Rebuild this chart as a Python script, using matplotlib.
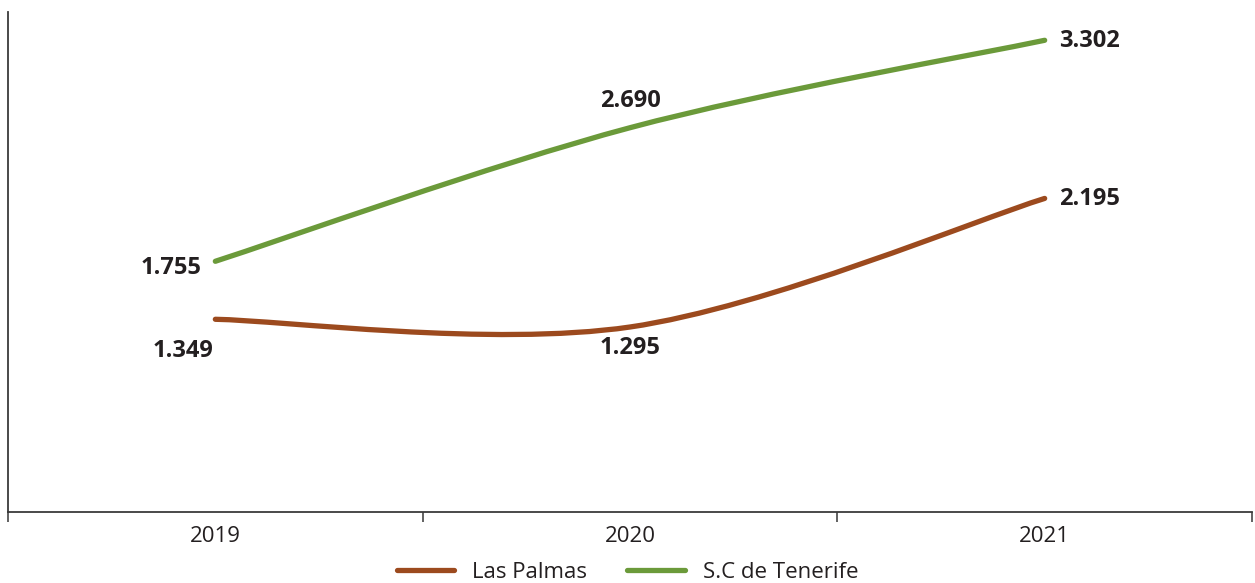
import matplotlib
matplotlib.use("Agg")
import matplotlib.pyplot as plt
from matplotlib.path import Path
from matplotlib.patches import PathPatch
from matplotlib.lines import Line2D
import numpy as np

years = ["2019", "2020", "2021"]
las_palmas = [1.349, 1.295, 2.195]
tenerife = [1.755, 2.690, 3.302]
series_names = ["Las Palmas", "S.C de Tenerife"]
labels_lp = ["1.349", "1.295", "2.195"]
labels_tf = ["1.755", "2.690", "3.302"]

BROWN = "#9C4A1E"
GREEN = "#6B9A3A"
TXT = "#231F20"
plt.rcParams["font.family"] = ["Open Sans", "DejaVu Sans"]

fig = plt.figure(figsize=(12.55, 5.83), dpi=100)
ax = fig.add_axes([8/1255, 1-512/583, 1244/1255, 500/583])


def smooth_path(ys):
    xs = np.arange(len(ys), dtype=float)
    ys = np.asarray(ys, dtype=float)
    pts = np.column_stack([xs, ys])
    n = len(pts)
    verts = [pts[0]]
    codes = [Path.MOVETO]
    for i in range(n - 1):
        p_prev = pts[i - 1] if i > 0 else pts[i]
        p_next2 = pts[i + 2] if i + 2 < n else pts[i + 1]
        c1 = pts[i] + (pts[i + 1] - p_prev) / 6
        c2 = pts[i + 1] - (p_next2 - pts[i]) / 6
        verts += [c1, c2, pts[i + 1]]
        codes += [Path.CURVE4] * 3
    return Path(verts, codes)


for ys, col in [(las_palmas, BROWN), (tenerife, GREEN)]:
    ax.add_patch(PathPatch(smooth_path(ys), facecolor="none", edgecolor=col,
                           lw=3.8, capstyle="round", joinstyle="round"))

fs = 17
kw = dict(fontsize=fs, fontweight="bold", color=TXT)
# Tenerife labels
ax.annotate(labels_tf[0], (0, tenerife[0]), xytext=(-14, -7), textcoords="offset pixels", ha="right", va="center", **kw)
ax.annotate(labels_tf[1], (1, tenerife[1]), xytext=(0, 27), textcoords="offset pixels", ha="center", va="center", **kw)
ax.annotate(labels_tf[2], (2, tenerife[2]), xytext=(14, -1), textcoords="offset pixels", ha="left", va="center", **kw)
# Las Palmas labels
ax.annotate(labels_lp[0], (0, las_palmas[0]), xytext=(-32, -32), textcoords="offset pixels", ha="center", va="center", **kw)
ax.annotate(labels_lp[1], (1, las_palmas[1]), xytext=(0, -21), textcoords="offset pixels", ha="center", va="center", **kw)
ax.annotate(labels_lp[2], (2, las_palmas[2]), xytext=(14, -1), textcoords="offset pixels", ha="left", va="center", **kw)

ax.set_xlim(-0.5, 2.5)
ax.set_ylim(0, 3.5)
ax.set_xticks(range(len(years)))
ax.set_xticklabels(years, fontsize=16, color=TXT)
ax.set_xticks([-0.5, 0.5, 1.5, 2.5], minor=True)
ax.tick_params(axis="x", which="major", length=0, pad=10)
ax.tick_params(axis="x", which="minor", length=7, width=1.3, color="#555555", direction="out")
ax.set_yticks([])
for s in ["top", "right"]:
    ax.spines[s].set_visible(False)
for s in ["left", "bottom"]:
    ax.spines[s].set_color("#3a3a3a")
    ax.spines[s].set_linewidth(1.3)

handles = [Line2D([0], [0], color=BROWN, lw=3.8, solid_capstyle="round"),
           Line2D([0], [0], color=GREEN, lw=3.8, solid_capstyle="round")]
fig.legend(handles, series_names, loc="center", bbox_to_anchor=(0.5, 1-572/583),
           ncol=2, frameon=False, fontsize=16, handlelength=2.6, columnspacing=1.8,
           handletextpad=0.8, labelcolor=TXT)

fig.savefig("out.png", dpi=100)
